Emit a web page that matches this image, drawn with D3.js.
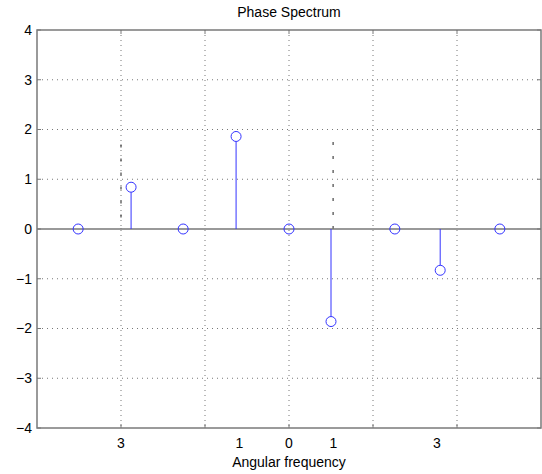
<!DOCTYPE html>
<html>
<head>
<meta charset="utf-8">
<script src="https://cdn.jsdelivr.net/npm/d3@7"></script>
<style>
	body { margin: 0; background: #fff; }
	text { font-family: "Liberation Sans", Arial, sans-serif; font-size: 14px; fill: #000; }
</style>
</head>
<body>
<svg></svg>
<script>
// angular frequency of each stem, and its phase
const freq = [-2.51, -1.88, -1.26, -0.63, 0, 0.50, 1.26, 1.80, 2.51];
const phase = [0, 0.84, 0, 1.86, 0, -1.86, 0, -0.83, 0];

const xGrid = [-2, -1, 0, 1, 2];
const yTicks = [-4, -3, -2, -1, 0, 1, 2, 3, 4];
const xTickLabels = ['3', '1', '0', '1', '3'];
const xTickPos = [-2.0, -0.59, 0, 0.53, 1.76];
// two denser dashed marks over the plot
const markPos = [-2.0, 0.525];
const markTop = [1.7, 1.75];

const svg = d3.select('svg')
	.attr('width', 542)
	.attr('height', 474);

const margin = { top: 30, right: 1, bottom: 46, left: 37 },
	innerWidth = 542 - margin.left - margin.right,
	innerHeight = 474 - margin.top - margin.bottom;

const xScale = d3.scaleLinear().domain([-3, 3]).range([0, innerWidth]);
const yScale = d3.scaleLinear().domain([-4, 4]).range([innerHeight, 0]);

const g = svg.append('g')
	.attr('transform', `translate(${margin.left}, ${margin.top})`);

// grid
g.selectAll('.vgrid').data(xGrid).enter().append('line')
	.attr('x1', d => xScale(d)).attr('x2', d => xScale(d))
	.attr('y1', 0).attr('y2', innerHeight)
	.attr('stroke', '#777').attr('stroke-dasharray', '1,4');

g.selectAll('.hgrid').data(yTicks.filter(d => Math.abs(d) < 4 && d !== 0)).enter().append('line')
	.attr('y1', d => yScale(d)).attr('y2', d => yScale(d))
	.attr('x1', 0).attr('x2', innerWidth)
	.attr('stroke', '#777').attr('stroke-dasharray', '1,4');

g.selectAll('.mark').data(markPos).enter().append('line')
	.attr('x1', d => xScale(d)).attr('x2', d => xScale(d))
	.attr('y1', (d, i) => yScale(markTop[i])).attr('y2', yScale(0))
	.attr('stroke', '#444').attr('stroke-width', 1.2)
	.attr('stroke-dasharray', '3,11');

// box and ticks
g.append('rect')
	.attr('width', innerWidth).attr('height', innerHeight)
	.attr('fill', 'none').attr('stroke', '#7a7a7a').attr('stroke-width', 1.5);

g.selectAll('.ytick').data(yTicks).enter().append('path')
	.attr('d', d => `M0,${yScale(d)}h4M${innerWidth},${yScale(d)}h-4`)
	.attr('stroke', '#7a7a7a');

g.selectAll('.xtick').data(xGrid).enter().append('path')
	.attr('d', d => `M${xScale(d)},${innerHeight}v-4M${xScale(d)},0v4`)
	.attr('stroke', '#7a7a7a');

// baseline
g.append('line')
	.attr('x1', 0).attr('x2', innerWidth)
	.attr('y1', yScale(0)).attr('y2', yScale(0))
	.attr('stroke', '#777').attr('stroke-width', 1.5);

// stems
const pts = freq.map((f, i) => ({ f, p: phase[i] }));

g.selectAll('.stem').data(pts.filter(d => d.p !== 0)).enter().append('line')
	.attr('x1', d => xScale(d.f)).attr('x2', d => xScale(d.f))
	.attr('y1', yScale(0)).attr('y2', d => yScale(d.p) + (d.p > 0 ? 5 : -5))
	.attr('stroke', '#3333ff').attr('stroke-width', 1);

g.selectAll('circle').data(pts).enter().append('circle')
	.attr('cx', d => xScale(d.f))
	.attr('cy', d => yScale(d.p))
	.attr('r', 5)
	.attr('fill', 'none')
	.attr('stroke', '#3333ff');

// labels
g.selectAll('.ylab').data(yTicks).enter().append('text')
	.attr('x', -5).attr('y', d => yScale(d)).attr('dy', '0.35em')
	.attr('text-anchor', 'end')
	.text(d => d3.format('')(d));

g.selectAll('.xlab').data(xTickLabels).enter().append('text')
	.attr('x', (d, i) => xScale(xTickPos[i]))
	.attr('y', innerHeight + 20)
	.attr('text-anchor', 'middle')
	.text(d => d);

g.append('text')
	.attr('x', xScale(0)).attr('y', innerHeight + 39)
	.attr('text-anchor', 'middle')
	.text('Angular frequency');

g.append('text')
	.attr('x', xScale(0)).attr('y', -13)
	.attr('text-anchor', 'middle')
	.text('Phase Spectrum');
</script>
</body>
</html>
